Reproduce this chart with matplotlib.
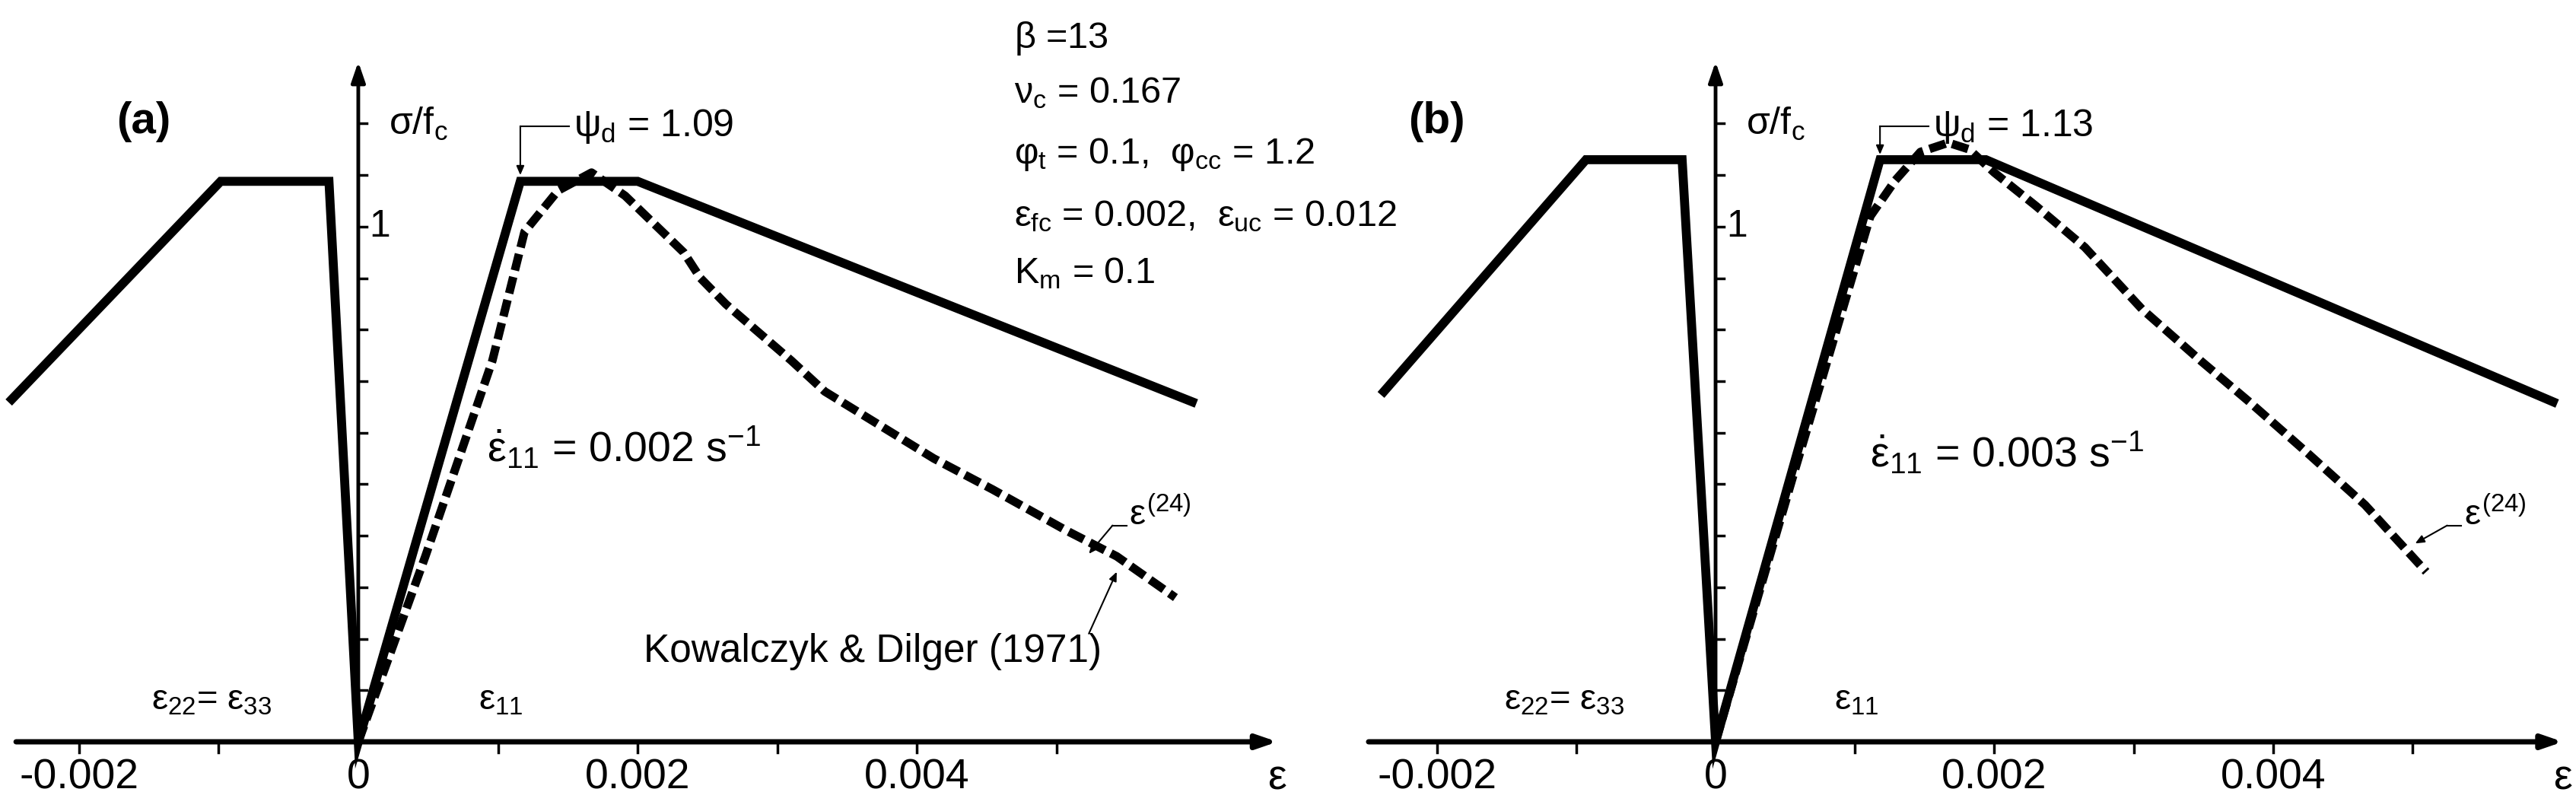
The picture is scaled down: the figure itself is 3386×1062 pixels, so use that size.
import numpy as np
import matplotlib
matplotlib.use("Agg")
import matplotlib.pyplot as plt

FONT = "Liberation Sans"
plt.rcParams['font.family'] = [FONT, 'DejaVu Sans']
plt.rcParams['mathtext.fontset'] = 'custom'
plt.rcParams['mathtext.rm'] = FONT
plt.rcParams['mathtext.it'] = FONT
plt.rcParams['mathtext.bf'] = FONT + ':bold'

# --- data (strain, sigma/fc) ---
a_solid_x = [-0.00248, -0.000985, -0.00021, 0.0, 0.00116, 0.0020, 0.00597]
a_solid_y = [0.665, 1.088, 1.088, 0.0, 1.088, 1.088, 0.66]
a_dash_x = [0.0, 0.00048, 0.00096, 0.00119, 0.00143, 0.00167, 0.00191, 0.00233, 0.00245,
            0.00263, 0.0031, 0.00334, 0.0037, 0.00412, 0.00454, 0.00507, 0.00543, 0.00585]
a_dash_y = [0.0, 0.36, 0.74, 0.99, 1.07, 1.105, 1.06, 0.95, 0.90,
            0.85, 0.74, 0.68, 0.62, 0.55, 0.49, 0.41, 0.36, 0.28]

b_solid_x = [-0.00238, -0.00093, -0.00024, 0.0, 0.00118, 0.00194, 0.00601]
b_solid_y = [0.68, 1.13, 1.13, 0.0, 1.13, 1.13, 0.66]
b_dash_x = [0.0, 0.00055, 0.00111, 0.00129, 0.00147, 0.00167, 0.00182, 0.0020, 0.0023,
            0.00265, 0.00306, 0.00348, 0.00383, 0.00425, 0.00466, 0.0051]
b_dash_y = [0.0, 0.51, 1.02, 1.09, 1.145, 1.163, 1.15, 1.105, 1.04,
            0.96, 0.84, 0.74, 0.66, 0.56, 0.46, 0.33]

xtick_vals = [-0.002, 0, 0.002, 0.004]
xtick_labels = ["-0.002", "0", "0.002", "0.004"]

W, H = 3387, 1062
fig = plt.figure(figsize=(W / 100, H / 100), dpi=100)

def make_panel(left_px, width_px, xlim, x_start, x_end, label, psi_txt, psi_tip,
               rate_txt, rate_pos, e22_x, e11_x, e24_txt_pos, e24_tip,
               sx, sy, dx, dy):
    ax = fig.add_axes([left_px / W, 0, width_px / W, 1])
    ax.set_xlim(*xlim)
    ax.set_ylim(-0.1285, 1.44)
    ax.axis('off')
    k = dict(color='black', clip_on=False)
    # axes with arrows
    ax.annotate('', xy=(x_end, 0), xytext=(x_start, 0),
                arrowprops=dict(arrowstyle='-|>,head_length=1.6,head_width=0.55', lw=5, color='black',
                                shrinkA=0, shrinkB=0))
    ax.annotate('', xy=(0, 1.32), xytext=(0, 0),
                arrowprops=dict(arrowstyle='-|>,head_length=1.6,head_width=0.55', lw=3.5, color='black',
                                shrinkA=0, shrinkB=0))
    for t in np.arange(-0.002, 0.0056, 0.001):
        if abs(t) > 1e-9:
            ax.plot([t, t], [0, -0.02], lw=2.5, **k)
    for t in np.arange(0.1, 1.25, 0.1):
        ax.plot([0, 0.00006], [t, t], lw=2.5, **k)
    for v, s in zip(xtick_vals, xtick_labels):
        ax.text(v, -0.07, s, ha='center', va='center', fontsize=40)
    ax.text(x_end, -0.07, r'$\varepsilon$', ha='center', va='center', fontsize=40)
    ax.text(0.00008, 1.0, '1', ha='left', va='center', fontsize=36)
    ax.text(0.00022, 1.2, r'$\sigma/\mathrm{f}_\mathrm{c}$', ha='left', va='center', fontsize=36)
    ax.text(xlim[0] + 0.00103, 1.204, label, ha='center', va='center', fontsize=42, fontweight='bold')

    # curves
    ax.plot(sx, sy, color='black', lw=8.5, solid_joinstyle='miter')
    ax.plot(dx, dy, color='black', lw=8, ls=(0, (2.0, 0.8)))

    # psi annotation
    ax.text(psi_tip[0] + 0.00038, 1.195, psi_txt, ha='left', va='center', fontsize=36)
    ax.plot([psi_tip[0], psi_tip[0] + 0.00035], [1.195, 1.195], lw=1.5, **k)
    ax.annotate('', xy=psi_tip, xytext=(psi_tip[0], 1.195),
                arrowprops=dict(arrowstyle='-|>,head_length=0.7,head_width=0.3', lw=1.5, color='black',
                                shrinkA=0, shrinkB=0))
    ax.text(rate_pos[0], rate_pos[1], rate_txt, ha='left', va='center', fontsize=40)
    ax.text(e22_x, 0.08, r'$\varepsilon_{22}$= $\varepsilon_{33}$', ha='left', va='center', fontsize=34)
    ax.text(e11_x, 0.08, r'$\varepsilon_{11}$', ha='left', va='center', fontsize=34)
    ax.text(e24_txt_pos[0], e24_txt_pos[1], r'$\varepsilon^{(24)}$', ha='left', va='center', fontsize=34)
    corner = (e24_txt_pos[0] - 0.00012, e24_txt_pos[1] - 0.02)
    ax.plot([e24_txt_pos[0] - 0.00002, corner[0]], [corner[1], corner[1]], lw=1.5, **k)
    ax.annotate('', xy=e24_tip, xytext=corner,
                arrowprops=dict(arrowstyle='-|>,head_length=0.7,head_width=0.3', lw=1.5, color='black',
                                shrinkA=0, shrinkB=0))
    return ax

ax_a = make_panel(0, 1700, (-0.002565, 0.006694), -0.00245, 0.00658, '(a)',
                  r'$\psi_\mathrm{d}$ = 1.09', (0.00116, 1.10),
                  r'$\dot{\varepsilon}_{11}$ = 0.002 s$^{-1}$', (0.00092, 0.57),
                  -0.00148, 0.00086, (0.00552, 0.44), (0.00523, 0.365),
                  a_solid_x, a_solid_y, a_dash_x, a_dash_y)
ax_a.text(0.00204, 0.175, 'Kowalczyk & Dilger (1971)', ha='left', va='center', fontsize=37)
ax_a.annotate('', xy=(0.00543, 0.33), xytext=(0.00523, 0.21),
              arrowprops=dict(arrowstyle='-|>,head_length=0.7,head_width=0.3', lw=1.5, color='black',
                              shrinkA=0, shrinkB=0))

ax_b = make_panel(1700, 1687, (-0.00303, 0.00618), -0.00249, 0.00608, '(b)',
                  r'$\psi_\mathrm{d}$ = 1.13', (0.00118, 1.14),
                  r'$\dot{\varepsilon}_{11}$ = 0.003 s$^{-1}$', (0.00111, 0.56),
                  -0.00152, 0.00085, (0.00537, 0.44), (0.00502, 0.385),
                  b_solid_x, b_solid_y, b_dash_x, b_dash_y)

# parameter block
params = [r'$\beta$ =13', r'$\nu_\mathrm{c}$ = 0.167', r'$\varphi_\mathrm{t}$ = 0.1,  $\varphi_\mathrm{cc}$ = 1.2',
          r'$\varepsilon_\mathrm{fc}$ = 0.002,  $\varepsilon_\mathrm{uc}$ = 0.012', r'K$_\mathrm{m}$ = 0.1']
param_y = [51, 122, 203, 284, 359]
for s, yp in zip(params, param_y):
    fig.text(1333 / W, 1 - yp / H, s, ha='left', va='center', fontsize=35)

fig.savefig('out.png', dpi=100)
